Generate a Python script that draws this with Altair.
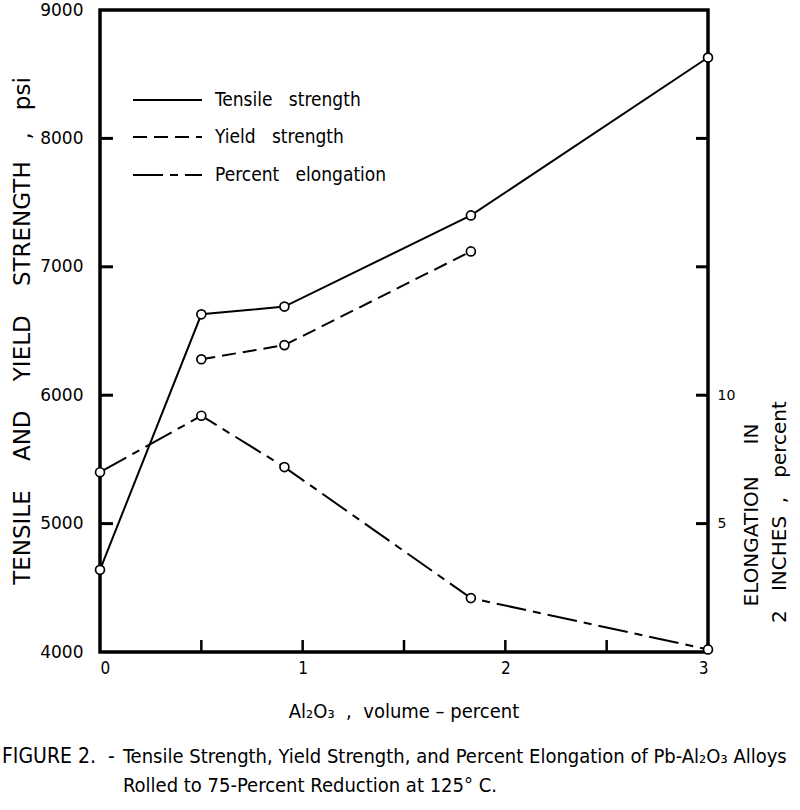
import altair as alt
import pandas as pd

# ---------------- data ----------------
al2o3 = [0.0, 0.5, 0.91, 1.83, 3.0]            # Al2O3, volume-percent
tensile_psi = [4640, 6630, 6690, 7400, 8630]   # tensile strength, psi
yield_x = [0.5, 0.91, 1.83]
yield_psi = [6280, 6390, 7120]                 # yield strength, psi
elong_pct = [7.0, 9.2, 7.2, 2.1, 0.1]          # elongation in 2 inches, percent

psi_ticks = [4000, 5000, 6000, 7000, 8000, 9000]
x_labels = [0, 1, 2, 3]
x_minor = [0.5, 1, 1.5, 2, 2.5]
elong_labels = [5, 10]
elong_ticks = [5, 10, 15, 20]

NB = "\u00a0"
legend_names = ["Tensile" + NB * 3 + "strength",
                "Yield" + NB * 3 + "strength",
                "Percent" + NB * 3 + "elongation"]

left_title = ("TENSILE" + NB * 4 + "AND" + NB * 4 + "YIELD" + NB * 4 + "STRENGTH"
              + NB * 3 + "," + NB * 3 + "psi")
right_title_1 = "ELONGATION" + NB * 5 + "IN"
right_title_2 = "2" + NB * 3 + "INCHES" + NB * 2 + "," + NB * 3 + "percent"
x_title = "Al\u2082O\u2083" + NB * 2 + "," + NB * 2 + "volume" + NB + "\u2013" + NB + "percent"
caption_head = "FIGURE" + NB + "2." + NB * 2 + "-"
caption_1 = "Tensile Strength, Yield Strength, and Percent Elongation of Pb-Al\u2082O\u2083 Alloys"
caption_2 = "Rolled to 75-Percent Reduction at 125\u00b0 C."

SANS = "DejaVu Sans"
NARROW = "Liberation Sans Narrow, DejaVu Sans Condensed, sans-serif"

YIELD_DASH = [14, 7]
ELONG_DASH = [30, 7, 8, 7]

# ---------------- tables ----------------
tens_df = pd.DataFrame({"x": al2o3, "psi": tensile_psi})
yield_df = pd.DataFrame({"x": yield_x, "psi": yield_psi})
elong_df = pd.DataFrame({"x": al2o3, "pct": elong_pct})
one = pd.DataFrame({"k": [0]})

xs = alt.Scale(domain=[0, 3], nice=False, zero=False)
ys = alt.Scale(domain=[4000, 9000], nice=False, zero=False)
es = alt.Scale(domain=[0, 25], nice=False, zero=False)

x_axis = alt.Axis(values=x_labels, format="d", labelFont=NARROW, labelFontSize=17,
                  labelColor="black", ticks=False, domain=False, grid=False,
                  labelPadding=8, title=None)
y_axis = alt.Axis(values=psi_ticks, format="d", labelFont=SANS, labelFontSize=17,
                  labelColor="black", ticks=False, domain=False, grid=False,
                  labelPadding=17, title=None)
e_axis = alt.Axis(values=elong_labels, format="d", orient="right", labelFont=SANS,
                  labelFontSize=14, labelColor="black", ticks=False, domain=False,
                  grid=False, labelPadding=9, title=None)

X = lambda: alt.X("x:Q", scale=xs, axis=x_axis)

PT = dict(shape="circle", filled=True, fill="white", stroke="black",
          strokeWidth=1.7, size=80, opacity=1)

tens_line = alt.Chart(tens_df).mark_line(color="black", strokeWidth=2).encode(
    x=X(), y=alt.Y("psi:Q", scale=ys, axis=y_axis))
tens_pts = alt.Chart(tens_df).mark_point(**PT).encode(
    x=X(), y=alt.Y("psi:Q", scale=ys, axis=None))
yield_line = alt.Chart(yield_df).mark_line(color="black", strokeWidth=2,
                                           strokeDash=YIELD_DASH).encode(
    x=X(), y=alt.Y("psi:Q", scale=ys, axis=None))
yield_pts = alt.Chart(yield_df).mark_point(**PT).encode(
    x=X(), y=alt.Y("psi:Q", scale=ys, axis=None))
elong_line = alt.Chart(elong_df).mark_line(color="black", strokeWidth=2,
                                           strokeDash=ELONG_DASH).encode(
    x=X(), y=alt.Y("pct:Q", scale=es, axis=e_axis))
elong_pts = alt.Chart(elong_df).mark_point(**PT).encode(
    x=X(), y=alt.Y("pct:Q", scale=es, axis=None))

# inward tick marks
left_ticks = alt.Chart(pd.DataFrame({"v": psi_ticks[1:-1]})).mark_rule(
    color="black", strokeWidth=3).encode(
    y=alt.Y("v:Q", scale=ys, axis=None), x=alt.value(0), x2=alt.value(13))
bottom_ticks = alt.Chart(pd.DataFrame({"x": x_minor})).mark_rule(
    color="black", strokeWidth=2.5).encode(
    x=X(), y=alt.value(642), y2=alt.value(630))
right_ticks = alt.Chart(pd.DataFrame({"v": elong_ticks})).mark_rule(
    color="black", strokeWidth=3).encode(
    y=alt.Y("v:Q", scale=es, axis=None), x=alt.value(608), x2=alt.value(596))

# in-plot legend
leg_layers = []
leg_rows = [90, 127, 165]
leg_dash = [[1, 0], YIELD_DASH, ELONG_DASH]
for name, yy, dash in zip(legend_names, leg_rows, leg_dash):
    leg_layers.append(alt.Chart(one).mark_rule(color="black", strokeWidth=2,
                                               strokeDash=dash).encode(
        x=alt.value(33), x2=alt.value(102), y=alt.value(yy)))
    leg_layers.append(alt.Chart(one).mark_text(text=name, font=NARROW, fontSize=19,
                                               align="left", baseline="middle",
                                               color="black").encode(
        x=alt.value(115), y=alt.value(yy)))


def label(txt, x, y, size, font=SANS, angle=0, align="center"):
    kw = dict(text=txt, font=font, fontSize=size, align=align, baseline="middle",
              color="black")
    if angle:
        kw["angle"] = angle
    return alt.Chart(one).mark_text(**kw).encode(x=alt.value(x), y=alt.value(y))


texts = [
    label(left_title, -77, 321, 23, angle=270),
    label(right_title_1, 652, 505, 20, angle=270),
    label(right_title_2, 680, 502, 20, angle=270),
    label(x_title, 304, 702, 20, font=NARROW),
    label(caption_head, -98, 747, 21, font=NARROW, align="left"),
    label(caption_1, 23, 747, 20, font=NARROW, align="left"),
    label(caption_2, 23, 776, 20, font=NARROW, align="left"),
]

chart = alt.layer(
    tens_line, yield_line, elong_line,
    left_ticks, bottom_ticks, right_ticks,
    tens_pts, yield_pts, elong_pts,
    *leg_layers, *texts,
).resolve_scale(y="independent").properties(
    width=608, height=642,
    padding={"left": 100, "top": 10, "right": 92, "bottom": 158},
    autosize=alt.AutoSizeParams(type="none"),
    background="white",
).configure_view(stroke="black", strokeWidth=3.5)

chart.save("out.html", embed_options={"renderer": "svg", "actions": False})
